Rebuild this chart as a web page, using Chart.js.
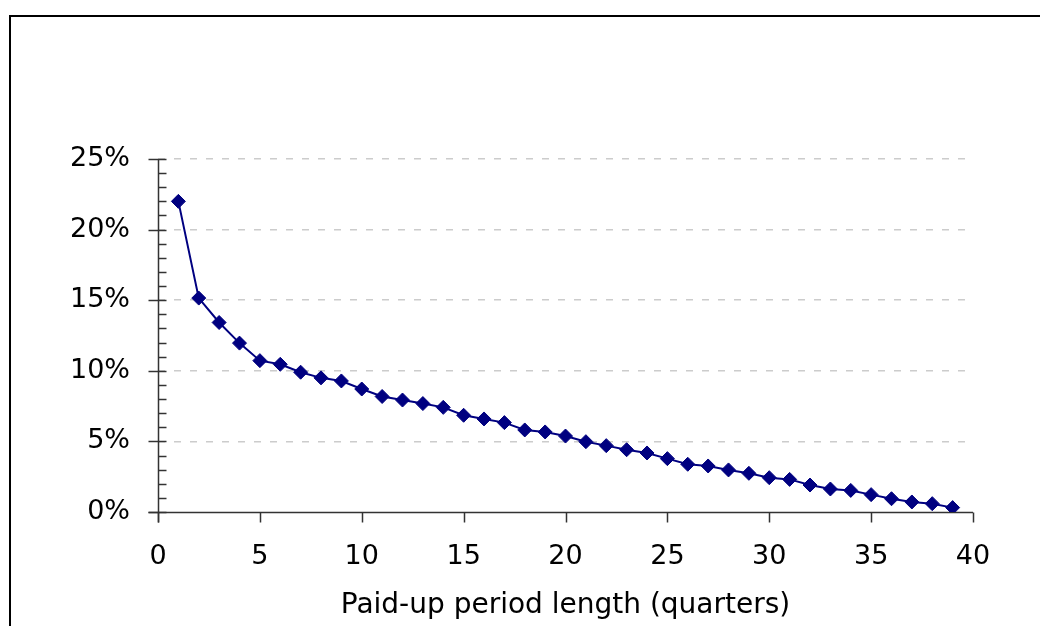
<!DOCTYPE html>
<html>
<head>
<meta charset="utf-8">
<script src="https://cdn.jsdelivr.net/npm/chart.js@4.4.1/dist/chart.umd.min.js"></script>
<style>
  html, body { margin: 0; padding: 0; background: #ffffff; }
  #wrap { width: 1040px; height: 626px; position: relative; }
</style>
</head>
<body>
<div id="wrap"><canvas id="c" width="1040" height="626"></canvas></div>
<script>
// Paid-up period length (quarters)
const quarters = [1,2,3,4,5,6,7,8,9,10,11,12,13,14,15,16,17,18,19,20,21,22,23,24,25,26,27,28,29,30,31,32,33,34,35,36,37,38,39];
// Share (%)
const shares = [22.0,15.15,13.42,11.96,10.72,10.46,9.9,9.5,9.28,8.71,8.18,7.93,7.68,7.41,6.85,6.59,6.33,5.81,5.67,5.38,4.98,4.7,4.41,4.18,3.78,3.38,3.26,2.98,2.74,2.43,2.31,1.91,1.63,1.53,1.23,0.94,0.71,0.59,0.31];
const xTickValues = [0,5,10,15,20,25,30,35,40];
const yTickValues = [0,5,10,15,20,25];
const xTitle = 'Paid-up period length (quarters)';

const FONT = '"DejaVu Sans", Tahoma, Verdana, sans-serif';

const decor = {
  id: 'decor',
  beforeDraw(chart) {
    const ctx = chart.ctx;
    ctx.save();
    ctx.fillStyle = '#ffffff';
    ctx.fillRect(0, 0, chart.width, chart.height);
    ctx.strokeStyle = '#000000';
    ctx.lineWidth = 2;
    ctx.beginPath();
    ctx.moveTo(10, chart.height + 5);
    ctx.lineTo(10, 16);
    ctx.lineTo(chart.width + 5, 16);
    ctx.stroke();
    ctx.restore();
  },
  beforeDatasetsDraw(chart) {
    const ctx = chart.ctx;
    const xs = chart.scales.x, ys = chart.scales.y;
    ctx.save();
    ctx.strokeStyle = '#333333';
    ctx.lineWidth = 1.5;
    const ax = Math.round(xs.getPixelForValue(0)) + 0.5;
    const ay = Math.round(ys.getPixelForValue(0)) + 0.5;
    ctx.beginPath();
    ctx.moveTo(ax, ys.getPixelForValue(25));
    ctx.lineTo(ax, ay + 10);
    ctx.stroke();
    ctx.beginPath();
    ctx.moveTo(ax - 10, ay);
    ctx.lineTo(xs.getPixelForValue(40), ay);
    ctx.stroke();
    for (let v = 0; v <= 25; v++) {
      const py = Math.round(ys.getPixelForValue(v)) + 0.5;
      ctx.beginPath();
      if (v % 5 === 0) { ctx.moveTo(ax - 10, py); ctx.lineTo(ax + 8, py); }
      else { ctx.moveTo(ax, py); ctx.lineTo(ax + 8, py); }
      ctx.stroke();
    }
    xTickValues.forEach(v => {
      const px = Math.round(xs.getPixelForValue(v)) + 0.5;
      ctx.beginPath();
      ctx.moveTo(px, ay);
      ctx.lineTo(px, ay + 10);
      ctx.stroke();
    });
    ctx.restore();
  }
};

new Chart(document.getElementById('c'), {
  type: 'line',
  data: {
    datasets: [{
      data: quarters.map((q, i) => ({ x: q, y: shares[i] })),
      borderColor: '#000080',
      backgroundColor: '#000080',
      borderWidth: 2,
      tension: 0,
      pointStyle: 'rectRot',
      pointRadius: 7,
      pointBorderWidth: 1,
      pointBackgroundColor: '#000080',
      pointBorderColor: '#000080',
      fill: false
    }]
  },
  options: {
    responsive: false,
    animation: false,
    devicePixelRatio: 1,
    layout: { padding: { left: 0, top: 159, right: 67, bottom: 0 } },
    plugins: { legend: { display: false }, tooltip: { enabled: false }, title: { display: false } },
    scales: {
      x: {
        type: 'linear',
        min: 0, max: 40,
        afterBuildTicks(s) { s.ticks = xTickValues.map(v => ({ value: v })); },
        afterFit(s) { s.height = 114; },
        grid: { display: false, drawTicks: false },
        border: { display: false },
        ticks: { color: '#000000', font: { family: FONT, size: 27 }, padding: 29, maxRotation: 0, autoSkip: false },
        title: { display: true, text: xTitle, color: '#000000', font: { family: FONT, size: 28 }, padding: { top: 0, bottom: 3 } }
      },
      y: {
        type: 'linear',
        min: 0, max: 25,
        afterBuildTicks(s) { s.ticks = yTickValues.map(v => ({ value: v })); },
        afterFit(s) { s.width = 158; },
        grid: {
          drawTicks: false,
          lineWidth: 1.5,
          color: (c) => (c.tick && c.tick.value !== 0) ? '#cccccc' : 'rgba(0,0,0,0)'
        },
        border: { display: false, dash: [7, 9] },
        ticks: { color: '#000000', font: { family: FONT, size: 27 }, padding: 28, callback: v => v + '%' }
      }
    }
  },
  plugins: [decor]
});
</script>
</body>
</html>
